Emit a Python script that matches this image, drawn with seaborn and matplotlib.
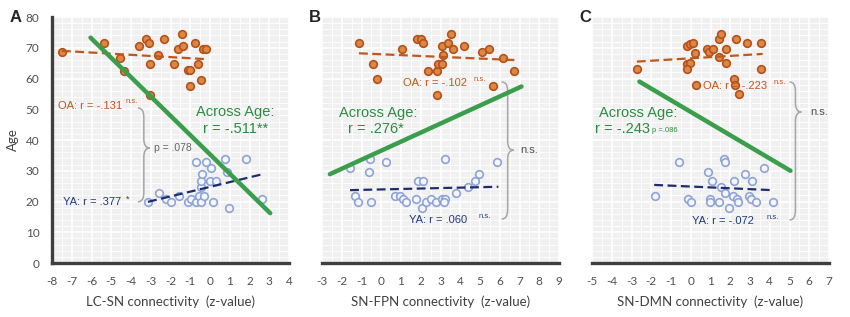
import numpy as np
import pandas as pd
import seaborn as sns
import matplotlib.pyplot as plt
from matplotlib.path import Path
from matplotlib.patches import PathPatch
from matplotlib.ticker import MultipleLocator

sns.set_style("white")
plt.rcParams['font.family'] = ['Liberation Sans', 'DejaVu Sans']
plt.rcParams['axes.unicode_minus'] = False

# ---- panel A : LC-SN ----
a_oa_x = [-7.51, -5.36, -4.57, -4.36, -3.59, -3.25, -3.09, -3.05, -3.03, -2.63, -2.33, -1.82,
          -1.62, -1.40, -1.37, -1.12, -1.00, -1.00, -0.76, -0.59, -0.46, -0.36, -0.19]
a_oa_y = [68.5, 71.6, 66.7, 62.5, 70.6, 72.7, 71.6, 64.7, 54.6, 67.6, 72.7, 64.7,
          69.6, 74.6, 70.7, 62.7, 62.7, 57.6, 71.6, 64.6, 59.5, 69.6, 69.6]
a_ya_x = [-3.14, -2.58, -2.24, -1.95, -1.57, -1.12, -0.98, -0.69, -0.69, -0.58, -0.44, -0.44,
          -0.44, -0.39, -0.29, -0.19, 0.03, 0.15, -0.02, 0.32, 0.74, 0.87, 0.95, 1.83, 2.64]
a_ya_y = [19.9, 22.7, 20.8, 19.7, 21.8, 19.7, 20.8, 32.7, 19.7, 21.8, 19.7, 24.6,
          26.8, 28.8, 21.8, 32.7, 30.8, 19.7, 26.8, 26.8, 33.7, 29.7, 17.8, 33.7, 20.7]
a_fit_oa = ([-7.5, -0.2], [69.0, 66.3])
a_fit_ya = ([-3.14, 2.67], [19.9, 28.9])
a_fit_all = ([-6.05, 3.05], [73.3, 16.2])

# ---- panel B : SN-FPN ----
b_oa_x = [-1.13, -0.43, -0.23, 1.04, 1.79, 2.00, 2.13, 2.35, 2.81, 2.81, 2.89, 3.06,
          3.06, 3.14, 3.36, 3.51, 3.65, 4.19, 5.12, 5.46, 5.64, 6.18, 6.74]
b_oa_y = [71.6, 64.7, 59.7, 69.6, 72.7, 72.7, 71.6, 62.5, 62.5, 54.6, 64.7, 64.7,
          70.7, 67.6, 71.6, 74.6, 69.6, 70.7, 68.5, 69.6, 57.7, 66.6, 62.5]
b_ya_x = [-1.58, -0.57, -0.62, 0.24, 3.23, 5.85, -1.33, -1.16, -0.52, 1.88, 2.10, 0.70, 0.95,
          1.12, 1.25, 1.74, 2.05, 2.27, 2.50, 2.76, 3.06, 3.23, 3.19, 3.78, 4.41, 4.75, 4.95]
b_ya_y = [30.8, 33.7, 29.7, 32.7, 33.7, 32.7, 21.8, 19.7, 19.7, 26.8, 26.8, 21.8, 21.8,
          20.8, 19.7, 20.8, 17.8, 19.7, 20.8, 19.7, 20.8, 20.8, 19.7, 22.7, 24.8, 26.8, 28.8]
b_fit_oa = ([-1.13, 6.77], [68.2, 66.0])
b_fit_ya = ([-1.58, 5.93], [23.7, 24.8])
b_fit_all = ([-2.6, 7.1], [28.9, 57.4])

# ---- panel C : SN-DMN ----
c_oa_x = [-2.70, -0.19, -0.06, 0.09, 0.19, -0.19, -0.03, -0.19, 0.26, 0.82, 0.90, 1.13,
          1.41, 1.55, 1.41, 1.80, 1.79, 2.17, 2.22, 2.45, 2.31, 2.85, 3.58, 3.58]
c_oa_y = [63.0, 70.7, 71.1, 71.6, 68.2, 64.7, 65.2, 63.0, 57.9, 69.6, 68.7, 69.6,
          72.7, 74.6, 67.0, 69.6, 64.9, 59.8, 57.9, 54.9, 72.7, 71.6, 71.6, 63.0]
c_ya_x = [-1.80, -0.57, -0.16, 0.01, 0.85, 0.95, 0.95, 1.08, 1.45, 1.53, 1.67, 1.75, 1.75,
          1.95, 2.12, 2.17, 2.35, 2.40, 2.73, 2.97, 3.11, 3.07, 3.32, 3.69, 4.15]
c_ya_y = [21.8, 32.7, 20.8, 19.7, 29.7, 20.8, 19.7, 26.8, 19.7, 24.8, 33.7, 32.7, 22.7,
          17.8, 21.8, 26.8, 20.8, 19.7, 28.8, 21.8, 26.8, 20.8, 19.7, 30.8, 19.7]
c_fit_oa = ([-2.73, 3.64], [65.5, 68.0])
c_fit_ya = ([-1.85, 4.12], [25.4, 23.7])
c_fit_all = ([-2.6, 5.05], [59.0, 30.0])

xlabels = ["LC-SN connectivity  (z-value)", "SN-FPN connectivity  (z-value)",
           "SN-DMN connectivity  (z-value)"]
xlims = [(-8, 4), (-3, 9), (-5, 7)]
letters = ["A", "B", "C"]

OA_FILL, OA_EDGE, OA_LINE = "#dd8742", "#b3521c", "#c0561b"
YA_FILL, YA_EDGE, YA_LINE = "#f4f6fc", "#8ea3d6", "#1f2d6e"
GREEN = "#3a9e4c"
GREEN_TXT = "#2e8a42"
OA_TXT = "#c0561b"
YA_TXT = "#203a80"
SPINE = "#3f3f3f"


def brace(ax, x, ytop, ybot, ymid, w, d):
    verts = [(x - w, ytop), (x, ytop), (x, ytop - d),
             (x, ymid + d), (x, ymid), (x + w, ymid),
             (x, ymid), (x, ymid - d),
             (x, ybot + d), (x, ybot), (x - w, ybot)]
    codes = [Path.MOVETO, Path.CURVE3, Path.CURVE3,
             Path.LINETO, Path.CURVE3, Path.CURVE3,
             Path.CURVE3, Path.CURVE3,
             Path.LINETO, Path.CURVE3, Path.CURVE3]
    ax.add_patch(PathPatch(Path(verts, codes), fill=False, ec="#a6a6a6", lw=1.1))


def panel(ax, oa_x, oa_y, ya_x, ya_y, fit_oa, fit_ya, fit_all):
    oa = pd.DataFrame({"x": oa_x, "y": oa_y})
    ya = pd.DataFrame({"x": ya_x, "y": ya_y})
    sns.scatterplot(data=oa, x="x", y="y", ax=ax, s=30, color=OA_FILL,
                    edgecolor=OA_EDGE, linewidth=1.2, zorder=3)
    sns.scatterplot(data=ya, x="x", y="y", ax=ax, s=30, color=YA_FILL,
                    edgecolor=YA_EDGE, linewidth=1.2, zorder=3)
    sns.lineplot(x=fit_oa[0], y=fit_oa[1], ax=ax, color=OA_LINE, lw=1.6,
                 linestyle=(0, (4, 2)), zorder=4)
    sns.lineplot(x=fit_ya[0], y=fit_ya[1], ax=ax, color=YA_LINE, lw=1.6,
                 linestyle=(0, (4, 2)), zorder=4)
    sns.lineplot(x=fit_all[0], y=fit_all[1], ax=ax, color=GREEN, lw=3.2, zorder=5)


fig = plt.figure(figsize=(8.5, 3.17), dpi=100)
lefts = [52 / 850, 322 / 850, 592 / 850]
axes = [fig.add_axes([l, 0.1703, 237 / 850, 0.776]) for l in lefts]

panel(axes[0], a_oa_x, a_oa_y, a_ya_x, a_ya_y, a_fit_oa, a_fit_ya, a_fit_all)
panel(axes[1], b_oa_x, b_oa_y, b_ya_x, b_ya_y, b_fit_oa, b_fit_ya, b_fit_all)
panel(axes[2], c_oa_x, c_oa_y, c_ya_x, c_ya_y, c_fit_oa, c_fit_ya, c_fit_all)

for i, ax in enumerate(axes):
    ax.set_facecolor("#f0f0f0")
    ax.set_xlim(*xlims[i])
    ax.set_ylim(0, 80)
    ax.xaxis.set_major_locator(MultipleLocator(1))
    ax.xaxis.set_minor_locator(MultipleLocator(0.5))
    ax.yaxis.set_major_locator(MultipleLocator(10))
    ax.yaxis.set_minor_locator(MultipleLocator(2))
    ax.grid(True, which="major", color="white", lw=1.2)
    ax.grid(True, which="minor", color="white", lw=0.6)
    ax.set_axisbelow(True)
    ax.tick_params(which="both", length=0, labelsize=8.5, labelcolor="#505050", pad=9)
    for lab in ax.get_xticklabels() + ax.get_yticklabels():
        lab.set_family("Lato")
    for s in ["top", "right"]:
        ax.spines[s].set_visible(False)
    ax.spines["bottom"].set_color(SPINE)
    ax.spines["bottom"].set_linewidth(2.4)
    if i == 0:
        ax.spines["left"].set_color(SPINE)
        ax.spines["left"].set_linewidth(2.4)
        ax.set_ylabel("Age", fontsize=9.5, family="Lato", color="#404040")
        ax.yaxis.set_label_coords((19 - 52) / 237, (263 - 140) / 246)
    else:
        ax.spines["left"].set_visible(False)
        ax.set_yticklabels([])
        ax.set_ylabel("")
    ax.set_xlabel(xlabels[i], fontsize=9.5, family="Lato", color="#404040")
    ax.xaxis.set_label_coords(0.5, -0.13)
    fig.text(lefts[i] - (42 if i == 0 else 13) / 850, 1 - 17 / 317, letters[i],
             fontsize=12, fontweight="bold", va="center")

small = 5.5
ax = axes[0]
ax.text(-7.7, 51.1, "OA: r = -.131", color=OA_TXT, fontsize=8, va="center")
ax.text(-4.3, 52.4, "n.s.", color=OA_TXT, fontsize=small, va="center")
ax.text(1.3, 49.0, "Across Age:", color=GREEN_TXT, fontsize=10.5, va="center", ha="center")
ax.text(1.3, 43.6, "r = -.511**", color=GREEN_TXT, fontsize=10.5, va="center", ha="center")
ax.text(-2.85, 37.4, "p = .078", color="#666666", fontsize=7.5, va="center")
ax.text(-7.45, 19.8, "YA: r = .377", color=YA_TXT, fontsize=8, va="center")
ax.text(-4.25, 20.6, "*", color=YA_TXT, fontsize=small + 1, va="center")
brace(ax, -3.35, 50.4, 19.9, 37.4, 0.3, 3.0)

ax = axes[1]
ax.text(1.1, 58.5, "OA: r = -.102", color=OA_TXT, fontsize=8, va="center")
ax.text(4.65, 59.6, "n.s.", color=OA_TXT, fontsize=small, va="center")
ax.text(-2.15, 48.8, "Across Age:", color=GREEN_TXT, fontsize=10.5, va="center")
ax.text(-1.7, 43.6, "r = .276*", color=GREEN_TXT, fontsize=10.5, va="center")
ax.text(7.05, 36.7, "n.s.", color="#505050", fontsize=8, va="center")
ax.text(1.4, 14.0, "YA: r = .060", color=YA_TXT, fontsize=8, va="center")
ax.text(4.95, 15.1, "n.s.", color=YA_TXT, fontsize=small, va="center")
brace(ax, 6.4, 58.9, 14.3, 36.7, 0.3, 3.0)

ax = axes[2]
ax.text(0.63, 57.6, "OA: r = -.223", color=OA_TXT, fontsize=8, va="center")
ax.text(4.2, 58.7, "n.s.", color=OA_TXT, fontsize=small, va="center")
ax.text(-4.65, 48.8, "Across Age:", color=GREEN_TXT, fontsize=10.5, va="center")
ax.text(-4.85, 43.6, "r = -.243", color=GREEN_TXT, fontsize=10.5, va="center")
ax.text(-1.95, 43.0, "p =.086", color=GREEN_TXT, fontsize=small, va="center")
ax.text(6.05, 49.1, "n.s.", color="#505050", fontsize=8, va="center")
ax.text(0.08, 13.7, "YA: r = -.072", color=YA_TXT, fontsize=8, va="center")
ax.text(3.85, 14.8, "n.s.", color=YA_TXT, fontsize=small, va="center")
brace(ax, 5.3, 58.9, 14.0, 49.1, 0.3, 3.0)

fig.savefig("out.png", dpi=100)
